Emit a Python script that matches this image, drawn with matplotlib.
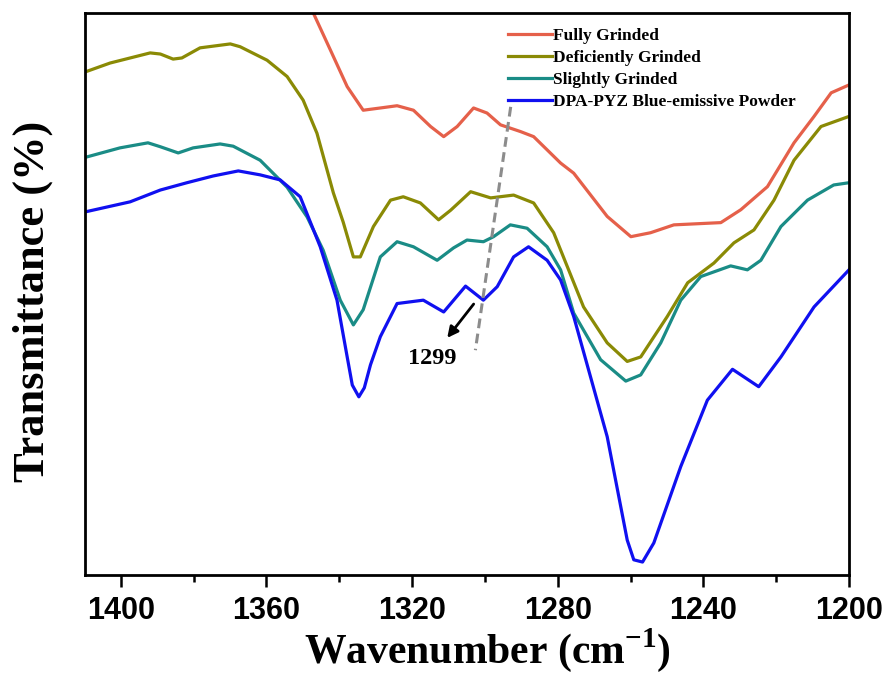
import numpy as np
import matplotlib
matplotlib.use('Agg')
import matplotlib.pyplot as plt

plt.rcParams['mathtext.fontset'] = 'custom'
plt.rcParams['mathtext.rm'] = 'Liberation Serif:bold'
plt.rcParams['mathtext.bf'] = 'Liberation Serif:bold'

# wavenumber (cm-1) / transmittance (a.u.)
wn_blue = [1409.8, 1397.4, 1389.1, 1381.8, 1374.6, 1367.7, 1361.7, 1356.2,
           1350.7, 1345.2, 1340.6, 1337.8, 1336.4, 1334.6, 1333.1, 1331.4,
           1328.7, 1324.1, 1316.9, 1311.3, 1305.3, 1300.4, 1296.6, 1292.1,
           1288.0, 1282.9, 1279.2, 1275.6, 1266.4, 1260.9, 1259.1, 1256.7,
           1253.6, 1246.2, 1238.9, 1232.0, 1224.8, 1218.7, 1209.6, 1200.0]
t_blue = [64.6, 66.4, 68.5, 69.8, 71.0, 71.9, 71.2, 70.3,
          67.3, 58.4, 48.9, 38.8, 33.8, 31.7, 33.3, 37.4,
          42.4, 48.3, 48.9, 46.8, 51.4, 48.9, 51.3, 56.6,
          58.4, 56.0, 52.5, 46.0, 24.6, 6.2, 2.7, 2.3,
          5.7, 19.3, 31.1, 36.6, 33.5, 38.8, 47.7, 54.3]

wn_teal = [1409.8, 1400.2, 1392.5, 1389.1, 1384.2, 1380.1, 1372.7, 1369.1,
           1361.7, 1354.3, 1348.8, 1344.4, 1339.7, 1336.1, 1333.4, 1328.7,
           1324.1, 1319.6, 1313.1, 1308.6, 1304.9, 1300.4, 1297.6, 1293.0,
           1288.4, 1282.9, 1279.2, 1275.6, 1268.2, 1261.3, 1257.2, 1251.7,
           1246.2, 1240.7, 1232.5, 1227.9, 1224.2, 1218.7, 1211.4, 1204.2,
           1200.0]
t_teal = [74.3, 76.0, 76.9, 76.2, 75.1, 76.0, 76.7, 76.3,
          73.8, 69.0, 63.7, 57.8, 48.9, 44.5, 47.2, 56.6,
          59.3, 58.4, 56.0, 58.2, 59.6, 59.3, 60.2, 62.3,
          61.7, 58.4, 54.3, 46.6, 38.3, 34.5, 35.6, 41.3,
          48.9, 53.1, 55.0, 54.3, 56.0, 62.0, 66.7, 69.4,
          69.8]

wn_olive = [1409.8, 1402.9, 1391.9, 1389.1, 1385.6, 1383.2, 1378.2, 1369.9,
            1367.2, 1359.8, 1354.3, 1349.9, 1346.1, 1341.6, 1338.9, 1336.1,
            1334.2, 1330.6, 1325.9, 1322.4, 1317.7, 1312.7, 1309.4, 1303.9,
            1298.4, 1292.1, 1286.6, 1281.1, 1272.9, 1266.4, 1260.9, 1257.2,
            1249.9, 1244.3, 1237.1, 1231.6, 1226.1, 1220.6, 1215.1, 1207.7,
            1200.0]
t_olive = [89.5, 91.1, 92.9, 92.7, 91.8, 92.0, 93.8, 94.5,
           94.0, 91.6, 88.7, 84.5, 78.6, 68.0, 62.8, 56.6,
           56.6, 62.0, 66.7, 67.3, 66.2, 63.2, 64.9, 68.2,
           67.1, 67.6, 66.2, 60.9, 47.7, 41.3, 38.0, 38.8,
           46.0, 52.0, 55.5, 59.1, 61.4, 66.7, 73.8, 79.8,
           81.6]

wn_red = [1349.3, 1347.1, 1342.4, 1337.8, 1333.4, 1328.7, 1324.1, 1319.6,
          1314.9, 1311.3, 1307.6, 1303.1, 1299.4, 1295.7, 1290.2, 1286.6,
          1279.2, 1275.6, 1266.4, 1259.9, 1254.5, 1248.1, 1235.2, 1229.7,
          1222.4, 1215.1, 1209.6, 1204.9, 1200.0]
t_red = [105.9, 100.0, 93.4, 86.9, 82.7, 83.1, 83.5, 82.7,
         79.8, 78.0, 79.8, 83.1, 82.2, 80.1, 78.9, 78.0,
         73.3, 71.5, 63.8, 60.2, 60.9, 62.3, 62.7, 65.0,
         69.1, 76.9, 81.6, 85.8, 87.2]

labels = ['Fully Grinded', 'Deficiently Grinded', 'Slightly Grinded',
          'DPA-PYZ Blue-emissive Powder']
colors = ['#E5604A', '#8A8A05', '#1A8C86', '#1010F0']

guide_wn = [1292.9, 1302.6]
guide_t = [83.3, 40.0]
peak_wn, peak_t = 1302.6, 48.6
note_wn, note_t = 1310.8, 41.8

serif = 'Liberation Serif'

fig = plt.figure(figsize=(8.88, 6.81), dpi=100)
ax = fig.add_axes([0.0957, 0.1557, 0.8604, 0.8252])

series = [(wn_red, t_red), (wn_olive, t_olive), (wn_teal, t_teal),
          (wn_blue, t_blue)]
for (x, y), c, lab in zip(series, colors, labels):
    ax.plot(x, y, color=c, lw=2.3, label=lab, solid_joinstyle='round')

ax.plot(guide_wn, guide_t, color='#8C8C8C', lw=2.2, dashes=(3.2, 1.8))
ax.annotate('', xy=(note_wn, note_t), xytext=(peak_wn, peak_t),
            arrowprops=dict(arrowstyle='-|>', color='k', lw=2.0,
                            mutation_scale=16))
ax.text(1314.4, 38.6, '1299', family=serif, weight='bold', fontsize=17.5,
        ha='center', va='center')

ax.set_xlim(1409.8, 1200)
ax.set_ylim(0, 100)
ax.set_xticks([1400, 1360, 1320, 1280, 1240, 1200])
ax.set_xticks([1380, 1340, 1300, 1260, 1220], minor=True)
ax.set_yticks([])
ax.tick_params(axis='x', which='major', length=8.5, width=1.8, pad=7,
               labelsize=22)
ax.tick_params(axis='x', which='minor', length=5, width=1.8)
for lab in ax.get_xticklabels():
    lab.set_family('Liberation Sans')
    lab.set_weight('bold')
for s in ax.spines.values():
    s.set_linewidth(2.0)

ax.set_xlabel(r'Wavenumber (cm$^{-1}$)', family=serif,
              weight='bold', fontsize=30)
ax.xaxis.set_label_coords(0.527, -0.092)
ax.set_ylabel('Transmittance (%)', family=serif, weight='bold', fontsize=32)
ax.yaxis.set_label_coords(-0.042, 0.487)

ax.legend(loc='upper left', bbox_to_anchor=(0.554, 0.974), frameon=False,
          prop=dict(family=serif, weight='bold', size=12.5),
          handlelength=2.5, handletextpad=0.1, labelspacing=0.35,
          borderpad=0, borderaxespad=0)

fig.savefig('out.png', dpi=100)
